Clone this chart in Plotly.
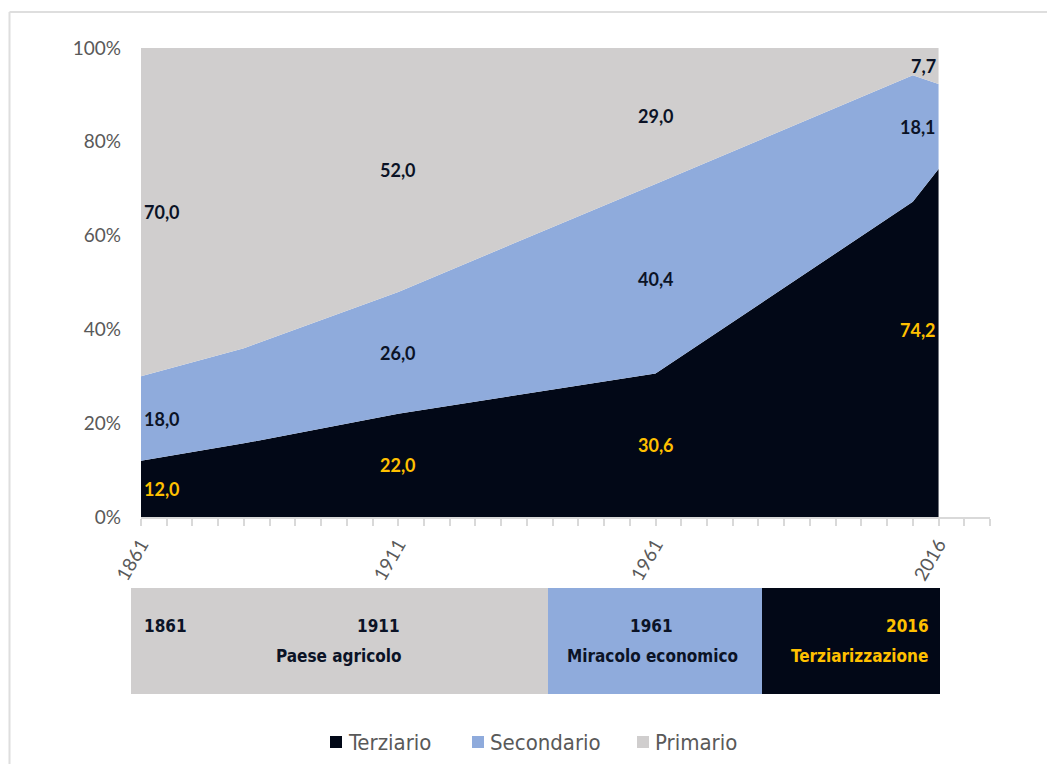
import plotly.graph_objects as go

# ---------------- data ----------------
years = [1861, 1881, 1911, 1961, 2011, 2016]
terziario = [12.0, 15.7, 22.0, 30.6, 67.2, 74.2]
secondario = [18.0, 20.3, 26.0, 40.4, 27.0, 18.1]
primario = [70.0, 64.0, 52.0, 29.0, 5.8, 7.7]

label_years = [1861, 1911, 1961, 2016]
tick_years = [1861, 1911, 1961, 2016]

phase_years = ["1861", "1911", "1961", "2016"]
phase_names = ["Paese agricolo", "Miracolo economico", "Terziarizzazione"]

series_names = ["Terziario", "Secondario", "Primario"]
colors = ["#020817", "#8FABDC", "#D0CECE"]
label_colors = ["#FFC000", "#0B1326", "#0B1326"]

# page offset (body margin) and figure size
OFF = 8
W, H = 1055 - OFF, 764 - OFF
X0, X1 = 141, 990      # plot area pixels (screen coords)
Y0, Y1 = 48, 517


def px(x):
    return (x - OFF) / W


def py(y):
    return 1 - (y - OFF) / H


fig = go.Figure()
for name, vals, col in zip(series_names, [terziario, secondario, primario], colors):
    fig.add_trace(go.Scatter(
        x=years, y=vals, name=name, stackgroup="one", mode="lines",
        line=dict(width=0, color=col), fillcolor=col, showlegend=False,
        hoverinfo="skip"))

# data labels at band centres
annotations = []
all_series = [terziario, secondario, primario]
for yr in label_years:
    i = years.index(yr)
    base = 0.0
    for k, vals in enumerate(all_series):
        v = vals[i]
        mid = base + v / 2
        base += v
        if yr == label_years[0]:
            xa, xs = "left", 1
        elif yr == label_years[-1]:
            xa, xs = "right", -1
        else:
            xa, xs = "center", 0
        ys = 0
        if yr == label_years[-1] and k == 0:
            ys = 13
        annotations.append(dict(
            x=yr, y=mid, xref="x", yref="y", text=f"{v:.1f}".replace(".", ","),
            showarrow=False, xanchor=xa, xshift=xs, yshift=ys,
            font=dict(family="Lato", size=18, color=label_colors[k], weight="bold")))

# phase band below the chart
band_top, band_bot = 588, 694
bands = [(131, 548, colors[2]), (548, 762, colors[1]), (762, 940, colors[0])]
shapes = []
for xa_, xb_, col in bands:
    shapes.append(dict(type="rect", xref="paper", yref="paper",
                       x0=px(xa_), x1=px(xb_), y0=py(band_bot), y1=py(band_top),
                       fillcolor=col, line=dict(width=0), layer="below"))
# outer frame (top & left)
shapes.append(dict(type="line", xref="paper", yref="paper", x0=px(9.5), x1=1,
                   y0=py(12), y1=py(12), line=dict(color="#DEDEDE", width=2)))
shapes.append(dict(type="line", xref="paper", yref="paper", x0=px(9.5), x1=px(9.5),
                   y0=py(12), y1=0, line=dict(color="#DEDEDE", width=2)))

tfont = dict(family="Liberation Sans Narrow, DejaVu Sans Condensed, Lato", size=17, weight="bold")
dark = "#0B1326"
gold = "#FFC000"
phase_text = [
    (165, 626, phase_years[0], dark),
    (378, 626, phase_years[1], dark),
    (651, 626, phase_years[2], dark),
    (907, 626, phase_years[3], gold),
    (339, 656, phase_names[0], dark),
    (652, 656, phase_names[1], dark),
    (859, 656, phase_names[2], gold),
]
for x, y, t, c in phase_text:
    annotations.append(dict(x=px(x), y=py(y), xref="paper", yref="paper", text=t,
                            showarrow=False, xanchor="center", yanchor="middle",
                            font=dict(tfont, color=c)))

# legend (square swatch + label)
legend_x = [330, 472, 637]
leg_y = 742
for name, col, lx in zip(series_names, colors, legend_x):
    shapes.append(dict(type="rect", xref="paper", yref="paper",
                       x0=px(lx), x1=px(lx + 12), y0=py(leg_y + 6), y1=py(leg_y - 6),
                       fillcolor=col, line=dict(width=0)))
    annotations.append(dict(x=px(lx + 16), y=py(leg_y), xref="paper", yref="paper",
                            text=name, showarrow=False, xanchor="left", yanchor="middle",
                            font=dict(family="Liberation Sans Narrow, DejaVu Sans Condensed, Lato",
                                      size=22, color="#595959")))

fig.update_layout(
    template="none",
    width=W, height=H, margin=dict(l=0, r=0, t=0, b=0, pad=0, autoexpand=False),
    paper_bgcolor="white", plot_bgcolor="white", showlegend=False,
    shapes=shapes, annotations=annotations,
    xaxis=dict(domain=[px(X0), px(X1)], range=[1861, 2026], tickvals=tick_years,
               ticktext=[str(t) for t in tick_years], tickangle=-60, automargin=False,
               tickfont=dict(family="Lato", size=19, color="#595959"),
               showgrid=False, zeroline=False, showline=True, linecolor="#D9D9D9",
               linewidth=2, ticks="outside", ticklen=7, tickcolor="#D9D9D9", tickwidth=1.5,
               minor=dict(ticks="outside", tick0=1861, dtick=5, ticklen=7, tickwidth=1.5,
                          tickcolor="#D9D9D9", showgrid=False)),
    yaxis=dict(domain=[py(Y1), py(Y0)], range=[0, 100], tickvals=[0, 20, 40, 60, 80, 100],
               ticktext=["0%", "20%", "40%", "60%", "80%", "100%"], automargin=False,
               tickfont=dict(family="Lato", size=19, color="#595959"),
               showgrid=False, zeroline=False, showline=False, ticks="", ticklabelstandoff=19),
)

fig.write_html("out.html")
